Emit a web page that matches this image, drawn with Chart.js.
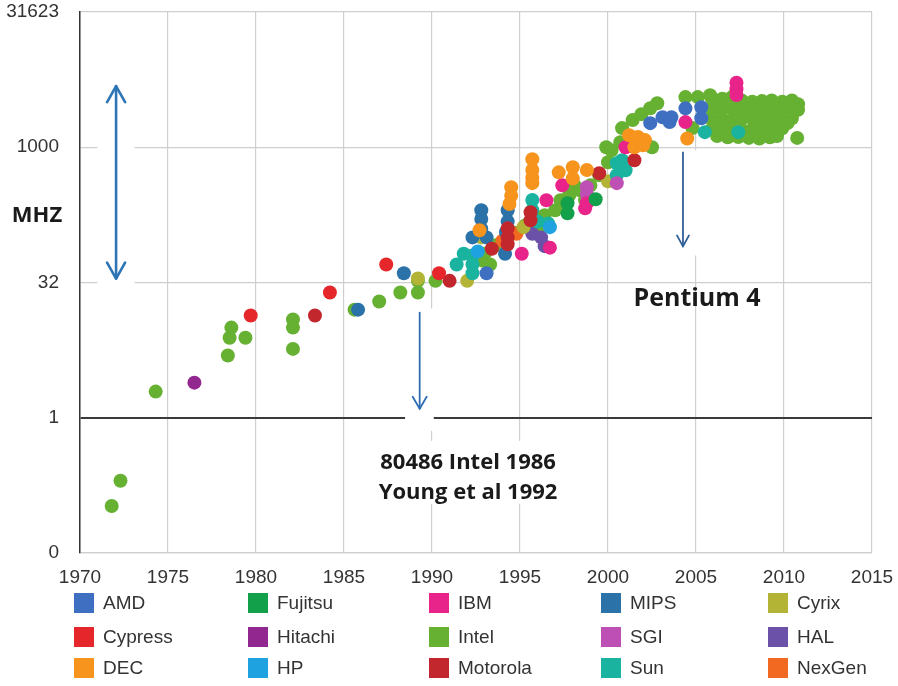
<!DOCTYPE html>
<html>
<head>
<meta charset="utf-8">
<script src="https://cdn.jsdelivr.net/npm/chart.js@4.4.1/dist/chart.umd.min.js"></script>
<style>
  html, body { margin: 0; padding: 0; background: #fff; }
  #wrap { width: 898px; height: 686px; position: relative; }
</style>
</head>
<body>
<div id="wrap"><canvas id="chart"></canvas></div>
<script>
// makers in legend order (column by column)
const makers = ["AMD", "Cypress", "DEC", "Fujitsu", "Hitachi", "HP", "IBM", "Intel",
  "Motorola", "MIPS", "SGI", "Sun", "Cyrix", "HAL", "NexGen"];
const makerColors = ["#3F6FC0", "#E5262B", "#F7941D", "#12A04B", "#92278F", "#1FA2E0", "#E8238A",
  "#66B032", "#C1272D", "#2A72A8", "#BE4FB4", "#19B3A0", "#B3B335", "#6B52A8", "#F26A21"];

// [year, MHz]
const amd = [[1993.1, 40], [2002.4, 1850], [2003.1, 2150], [2003.5, 1900], [2003.6, 2150],
  [2004.4, 2700], [2005.3, 2780], [2005.3, 2100]];
const cypress = [[1979.7, 13.6], [1984.2, 24.5], [1987.4, 50], [1990.4, 40]];
const dec = [[1992.7, 120], [1994.5, 360], [1994.5, 290], [1994.4, 235], [1995.7, 735], [1995.7, 560],
  [1995.7, 460], [1995.7, 400], [1997.2, 527], [1998.0, 600], [1998.0, 450], [1998.8, 560],
  [2001.2, 1360], [2001.7, 1300], [2002.1, 1200], [2001.5, 1000], [2002.0, 1050], [2004.5, 1250]];
const fujitsu = [[1997.7, 240], [1997.7, 185], [1999.3, 265]];
const hitachi = [[1976.5, 2.45]];
const hp = [[1996.7, 130], [1992.6, 70]];
const ibm = [[1995.1, 66], [1996.5, 258], [1996.7, 77], [1997.4, 378], [1998.7, 210], [1998.8, 240],
  [2001.0, 1000], [2004.4, 1900], [2007.3, 5200], [2007.3, 4400], [2007.3, 3800]];
const intel = [
  [1971.8, 0.105], [1972.3, 0.2], [1974.3, 1.95], [1978.6, 10], [1978.5, 7.7], [1978.4, 4.9],
  [1979.4, 7.7], [1982.1, 12.3], [1982.1, 10], [1982.1, 5.8], [1985.6, 15.8], [1987.0, 19.5],
  [1988.2, 24.5], [1989.2, 33], [1989.2, 24.5], [1990.2, 33],
  [1992.4, 58], [1992.9, 55], [1993.0, 66], [1993.3, 50], [1993.6, 82], [1994.1, 93], [1994.7, 113],
  [1995.3, 136], [1995.85, 155], [1996.1, 126], [1996.4, 176], [1997.0, 200], [1997.3, 258],
  [1997.6, 227], [1997.8, 293], [1998.1, 378], [1998.4, 333], [1998.7, 258], [1999.0, 378],
  [1999.5, 489], [1999.9, 1000], [2000.0, 681], [2000.2, 926], [2000.7, 1135], [2000.8, 1630],
  [2001.4, 2000], [2001.9, 2330], [2002.4, 2710], [2002.8, 3080], [2002.5, 1000],
  [2004.4, 3600], [2005.1, 3600], [2004.8, 1630], [2005.8, 3780],
  [2005.9, 3500], [2006.5, 3450], [2007.05, 3600], [2007.6, 3300], [2008.2, 3200], [2008.75, 3250],
  [2009.3, 3300], [2009.9, 3200], [2010.45, 3300], [2010.8, 3000],
  [2005.9, 2640], [2006.5, 2640], [2007.05, 2700], [2007.6, 2640], [2008.2, 2600], [2008.75, 2640],
  [2009.3, 2640], [2009.9, 2700], [2010.45, 2640], [2010.8, 2600],
  [2005.9, 2050], [2006.5, 2050], [2007.05, 2000], [2007.6, 2050], [2008.2, 2100], [2008.75, 2050],
  [2009.3, 2050], [2009.9, 2000], [2010.45, 2100],
  [2005.9, 1585], [2006.5, 1600], [2007.05, 1585], [2007.6, 1550], [2008.2, 1585], [2008.75, 1600],
  [2009.3, 1585], [2009.9, 1620],
  [2006.2, 1330], [2006.8, 1290], [2007.4, 1300], [2008.0, 1270], [2008.6, 1250], [2009.2, 1290],
  [2009.6, 1330], [2010.75, 1270],
  [2006.2, 3000], [2007.3, 2350], [2008.4, 2900], [2009.6, 2350], [2006.2, 1800], [2008.5, 1850],
  [2009.0, 1420], [2007.0, 1420], [2010.1, 2950], [2010.2, 1850]];
const motorola = [[1983.35, 13.6], [1991.0, 33], [1993.4, 75], [1994.3, 126], [1994.3, 100],
  [1994.3, 84], [1995.6, 155], [1995.6, 190], [1999.5, 514], [2001.5, 717]];
const mips = [[1985.8, 15.8], [1988.4, 40], [1992.3, 100], [1992.8, 200], [1992.8, 160],
  [1992.8, 125], [1993.1, 100], [1994.3, 200], [1994.3, 150], [1994.2, 115], [1994.15, 66]];
const sgi = [[1998.8, 360], [1998.8, 300], [1998.8, 245], [2000.5, 400]];
const sun = [[1991.4, 50], [1991.8, 66], [1992.3, 63], [1992.3, 50], [1992.3, 40], [1995.7, 260],
  [1995.7, 200], [1995.7, 160], [1996.0, 150], [1996.6, 143], [2000.5, 664], [2000.5, 489],
  [2000.8, 717], [2001.0, 555], [2005.5, 1470], [2007.4, 1470]];
const cyrix = [[1989.2, 35], [1992.0, 33], [1992.8, 100], [1995.2, 130], [2000.0, 420]];
const hal = [[1995.7, 110], [1996.2, 100], [1996.4, 80]];
const nexgen = [[1994.0, 92], [1994.8, 110]];

const series = [amd, cypress, dec, fujitsu, hitachi, hp, ibm, intel,
  motorola, mips, sgi, sun, cyrix, hal, nexgen];

// y axis: ticks every 1.5 decades
const yTickValues = [10 ** -1.5, 1, 10 ** 1.5, 1000, 10 ** 4.5];
const yTickLabels = ["0", "1", "32", "1000", "31623"];

// annotations (data units)
const notes = [
  { text: "80486 Intel 1986", year: 1992.05, mhz: 10 ** -0.5, size: 22 },
  { text: "Young et al 1992", year: 1992.05, mhz: 10 ** -0.833, size: 22 },
  { text: "Pentium 4", year: 2005.06, mhz: 10 ** 1.322, size: 25 },
];
const arrows = [
  { year: 1972.05, from: 10 ** 1.544, to: 10 ** 3.678, both: true, hw: 9, hl: 16, color: "#2E75B6", lw: 2.6 },
  { year: 1989.3, from: 10 ** 1.167, to: 10 ** 0.1, both: false, hw: 7, hl: 12, color: "#2E6DB4", lw: 1.8 },
  { year: 2004.26, from: 10 ** 2.944, to: 10 ** 1.9, both: false, hw: 6, hl: 11, color: "#2F5F98", lw: 1.8 },
];
const masks = [
  { x0: 1971.0, x1: 1973.1, y0: 10 ** 3.744, y1: 10 ** 1.411 },
  { x0: 1988.47, x1: 1990.1, y0: 10 ** 1.211, y1: 10 ** -0.144 },
  { x0: 1986.5, x1: 1997.6, y0: 10 ** -0.256, y1: 10 ** -0.956 },
  { x0: 2003.64, x1: 2005.23, y0: 10 ** 2.967, y1: 10 ** 1.8 },
];

const legendX = [74, 248, 429, 601, 768];
const legendY = [603, 637, 668];

const notesPlugin = {
  id: "notes",
  beforeDatasetsDraw(chart) {
    const { ctx, scales: { x, y } } = chart;
    ctx.save();
    ctx.fillStyle = "#fff";
    masks.forEach(m => {
      const px0 = x.getPixelForValue(m.x0), px1 = x.getPixelForValue(m.x1);
      const py0 = y.getPixelForValue(m.y0), py1 = y.getPixelForValue(m.y1);
      ctx.fillRect(px0, py0, px1 - px0, py1 - py0);
    });
    ctx.restore();
  },
  afterDatasetsDraw(chart) {
    const { ctx, scales: { x, y }, chartArea } = chart;
    ctx.save();
    arrows.forEach(a => {
      const px = x.getPixelForValue(a.year);
      const p0 = y.getPixelForValue(a.from), p1 = y.getPixelForValue(a.to);
      ctx.strokeStyle = a.color;
      ctx.lineWidth = a.lw;
      ctx.lineCap = "round";
      ctx.lineJoin = "round";
      ctx.beginPath();
      ctx.moveTo(px, p0);
      ctx.lineTo(px, p1);
      ctx.stroke();
      const dir = p1 > p0 ? -1 : 1;
      ctx.beginPath();
      ctx.moveTo(px - a.hw, p1 + dir * a.hl);
      ctx.lineTo(px, p1);
      ctx.lineTo(px + a.hw, p1 + dir * a.hl);
      ctx.stroke();
      if (a.both) {
        ctx.beginPath();
        ctx.moveTo(px - a.hw, p0 - dir * a.hl);
        ctx.lineTo(px, p0);
        ctx.lineTo(px + a.hw, p0 - dir * a.hl);
        ctx.stroke();
      }
    });
    ctx.fillStyle = "#1a1a1a";
    ctx.textAlign = "center";
    ctx.textBaseline = "middle";
    notes.forEach(n => {
      ctx.font = "bold " + n.size + "px 'Open Sans', sans-serif";
      ctx.fillText(n.text, x.getPixelForValue(n.year), y.getPixelForValue(n.mhz));
    });
    ctx.font = "bold 22px 'Open Sans', sans-serif";
    ctx.fillText("MHZ", chartArea.left - 43, y.getPixelForValue(10 ** 2.244));
    ctx.restore();
  },
  afterDraw(chart) {
    const { ctx } = chart;
    ctx.save();
    ctx.font = "19px 'Liberation Sans', Arial, sans-serif";
    ctx.textBaseline = "middle";
    ctx.textAlign = "left";
    chart.data.datasets.forEach((ds, i) => {
      const lx = legendX[Math.floor(i / 3)], ly = legendY[i % 3];
      ctx.fillStyle = ds.backgroundColor;
      ctx.fillRect(lx, ly - 10, 20, 20);
      ctx.fillStyle = "#333";
      ctx.fillText(ds.label, lx + 29, ly + 1);
    });
    ctx.restore();
  },
};

new Chart(document.getElementById("chart"), {
  type: "scatter",
  data: {
    datasets: makers.map((m, i) => ({
      label: m,
      data: series[i],
      backgroundColor: makerColors[i],
      borderWidth: 0,
      pointRadius: 7,
      pointHoverRadius: 7,
      order: m === "Intel" ? 1 : 0,
    })),
  },
  options: {
    responsive: true,
    maintainAspectRatio: false,
    animation: false,
    layout: { autoPadding: false, padding: { left: 0, right: 26, top: 12, bottom: 0 } },
    plugins: {
      legend: { display: false },
      tooltip: { enabled: false },
    },
    scales: {
      x: {
        type: "linear",
        min: 1970,
        max: 2015,
        ticks: {
          stepSize: 5,
          padding: 0,
          color: "#333",
          font: { family: "'Liberation Sans', Arial, sans-serif", size: 19 },
          callback: (v) => String(v),
        },
        grid: { color: "#cfcfcf", lineWidth: 1.2, drawTicks: true, tickLength: 13, tickColor: "rgba(0,0,0,0)" },
        border: { color: "#cfcfcf", width: 1.2 },
        afterFit: (scale) => { scale.height = 133; },
      },
      y: {
        type: "logarithmic",
        min: yTickValues[0],
        max: yTickValues[yTickValues.length - 1],
        afterBuildTicks: (scale) => {
          scale.ticks = yTickValues.map((v) => ({ value: v }));
        },
        ticks: {
          padding: 0,
          color: "#333",
          font: { family: "'Liberation Sans', Arial, sans-serif", size: 19 },
          callback: (v, i) => yTickLabels[i],
        },
        grid: {
          drawTicks: true,
          tickLength: 21,
          tickColor: "rgba(0,0,0,0)",
          color: (c) => (c.tick && Math.abs(c.tick.value - 1) < 1e-9 ? "#3a3a3a" : "#cfcfcf"),
          lineWidth: (c) => (c.tick && Math.abs(c.tick.value - 1) < 1e-9 ? 2 : 1.2),
        },
        border: { color: "#333", width: 1.5 },
        afterFit: (scale) => { scale.width = 80; },
      },
    },
  },
  plugins: [notesPlugin],
});
</script>
</body>
</html>
